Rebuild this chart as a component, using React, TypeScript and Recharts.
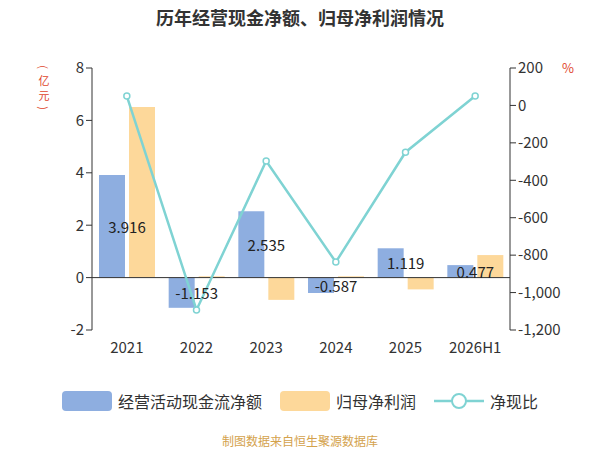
import React from 'react'
import {
  ComposedChart, Bar, Line, XAxis, YAxis, ReferenceLine, LabelList,
} from 'recharts'

const years = ['2021', '2022', '2023', '2024', '2025', '2026H1']
const cashFlow = [3.916, -1.153, 2.535, -0.587, 1.119, 0.477]
const netProfit = [6.51, 0.05, -0.85, 0.05, -0.45, 0.86]
const ratio = [50, -1093, -297, -837, -250, 50]
const leftTicks = [-2, 0, 2, 4, 6, 8]
const rightTicks = [-1200, -1000, -800, -600, -400, -200, 0, 200]

const data = years.map((y, i) => ({
  year: y, cash: cashFlow[i], profit: netProfit[i], ratio: ratio[i],
}))

const FONT = '"Noto Sans CJK SC", "Noto Sans", sans-serif'

function CashLabel({ x, y, width, height, value }: any) {
  const cy = y + height / 2
  return (
    <text x={x + width + 2} y={cy} textAnchor="middle" dominantBaseline="central"
      fontSize={15} fill="#222" fontFamily={FONT}>
      {value}
    </text>
  )
}

const unitChars = ['(', '亿', '元', ')']
const unitY = [67, 80, 95, 108]

export default function App() {
  return (
    <div style={{ position: 'absolute', left: 0, top: 0, width: 600, height: 450, fontFamily: FONT, background: '#fff' }}>
      <div style={{ position: 'absolute', top: 4, width: 600, textAlign: 'center', fontSize: 18, fontWeight: 700, color: '#333' }}>
        历年经营现金净额、归母净利润情况
      </div>
      <div style={{ position: 'absolute', left: 562, top: 58, fontSize: 13, color: '#e0452b' }}>%</div>
      <ComposedChart width={600} height={450} data={data}
        margin={{ top: 68, right: 30, left: 52, bottom: 90 }} barGap={4} barSize={26}>
        <XAxis dataKey="year" axisLine={false} tickLine={false}
          tick={{ fontSize: 15, fill: '#333' }} dy={4} />
        <YAxis yAxisId="l" domain={[-2, 8]} ticks={leftTicks} width={40}
          axisLine={{ stroke: '#333' }} tickLine={{ stroke: '#333' }}
          tick={{ fontSize: 15, fill: '#333' }} />
        <YAxis yAxisId="r" orientation="right" domain={[-1200, 200]} ticks={rightTicks} width={60}
          axisLine={{ stroke: '#333' }} tickLine={{ stroke: '#333' }}
          tickFormatter={(v: number) => v.toLocaleString('en-US')}
          tick={{ fontSize: 15, fill: '#333' }} />
        <ReferenceLine yAxisId="l" y={0} stroke="#333" />
        <Bar yAxisId="l" dataKey="cash" fill="#8eaee0" isAnimationActive={false}>
          <LabelList dataKey="cash" content={CashLabel} />
        </Bar>
        <Bar yAxisId="l" dataKey="profit" fill="#fdd89a" isAnimationActive={false} />
        <Line yAxisId="r" dataKey="ratio" stroke="#7fd3d3" strokeWidth={2.5}
          dot={{ r: 3, fill: '#fff', stroke: '#7fd3d3', strokeWidth: 1.5 }} isAnimationActive={false} />
      </ComposedChart>
      <svg style={{ position: 'absolute', left: 34, top: 0, zIndex: 2 }} width={20} height={120}>
        {unitChars.map((c, i) => (
          <text key={i} x={10} y={unitY[i]} textAnchor="middle" dominantBaseline="central"
            fontSize={11} fill="#e0452b" fontFamily={FONT}
            transform={c === '(' || c === ')' ? `rotate(90 10 ${unitY[i]})` : undefined}>
            {c}
          </text>
        ))}
      </svg>
      <div style={{ position: 'absolute', top: 389, left: 0, width: 600, display: 'flex', justifyContent: 'center', gap: 18, fontSize: 16, color: '#333', alignItems: 'center' }}>
        <span style={{ display: 'flex', alignItems: 'center', gap: 6 }}>
          <span style={{ width: 50, height: 20, background: '#8eaee0', borderRadius: 4 }} />经营活动现金流净额
        </span>
        <span style={{ display: 'flex', alignItems: 'center', gap: 6 }}>
          <span style={{ width: 50, height: 20, background: '#fdd89a', borderRadius: 4 }} />归母净利润
        </span>
        <span style={{ display: 'flex', alignItems: 'center', gap: 6 }}>
          <svg width={50} height={20}>
            <line x1={0} y1={10} x2={50} y2={10} stroke="#7fd3d3" strokeWidth={2.5} />
            <circle cx={25} cy={10} r={7} fill="#fff" stroke="#7fd3d3" strokeWidth={2} />
          </svg>净现比
        </span>
      </div>
      <div style={{ position: 'absolute', top: 432, width: 600, textAlign: 'center', fontSize: 12, color: '#d4a24c' }}>
        制图数据来自恒生聚源数据库
      </div>
    </div>
  )
}
